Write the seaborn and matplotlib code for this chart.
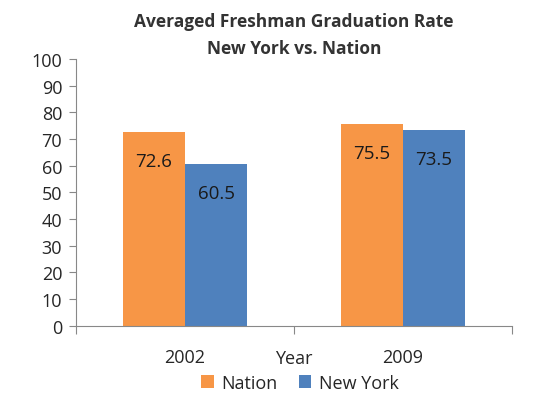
import pandas as pd
import seaborn as sns
import matplotlib.pyplot as plt
from matplotlib.ticker import FixedLocator

# Chart data
years = ['2002', '2009']
nation = [72.6, 75.5]
new_york = [60.5, 73.5]
series_names = ['Nation', 'New York']

df = pd.DataFrame({
    'Year': years * 2,
    'Rate': nation + new_york,
    'Region': [series_names[0]] * 2 + [series_names[1]] * 2,
})

sns.set_style('white')
plt.rcParams['font.family'] = ['Open Sans', 'DejaVu Sans']

fig = plt.figure(figsize=(5.43, 4.02), dpi=100)
ax = fig.add_axes([0.140, 0.187, 0.803, 0.664])

palette = {'Nation': '#F79646', 'New York': '#4F81BD'}
sns.barplot(data=df, x='Year', y='Rate', hue='Region', palette=palette,
            width=0.57, saturation=1, linewidth=0, ax=ax, legend=True)

# value labels inside the bars, near the top
for cont in ax.containers:
    for bar in cont:
        h = bar.get_height()
        ax.annotate(f'{h:.1f}', (bar.get_x() + bar.get_width() / 2, h),
                    xytext=(0, -29), textcoords='offset pixels',
                    ha='center', va='center', fontsize=13.5, color='#1a1a1a')

ax.set_ylim(0, 100)
ax.set_xlim(-0.5, 1.5)
ax.set_yticks(range(0, 101, 10))
ax.tick_params(axis='y', length=5, width=0.8, color='#888888', labelsize=13,
               left=True, pad=5)
ax.tick_params(axis='x', length=0, labelsize=13, pad=16)
ax.xaxis.set_minor_locator(FixedLocator([-0.5, 0.5, 1.5]))
ax.tick_params(axis='x', which='minor', length=6, width=0.8, color='#888888',
               bottom=True)

for s in ['top', 'right']:
    ax.spines[s].set_visible(False)
for s in ['left', 'bottom']:
    ax.spines[s].set_color('#888888')
    ax.spines[s].set_linewidth(0.8)

ax.set_ylabel('')
ax.set_xlabel('Year', fontsize=13)
ax.xaxis.set_label_coords(0.5, -0.085)

ax.set_title('Averaged Freshman Graduation Rate\nNew York vs. Nation',
             fontsize=12.5, fontweight='bold', color='#333333', pad=4,
             linespacing=1.65)

handles, labels = ax.get_legend_handles_labels()
ax.legend_.remove()
fig.legend(handles, labels, loc='center', bbox_to_anchor=(0.552, 0.045),
           ncol=2, frameon=False, fontsize=13, handlelength=0.7,
           handleheight=0.7, handletextpad=0.4, columnspacing=1.2)

fig.savefig('out.png', dpi=100)
